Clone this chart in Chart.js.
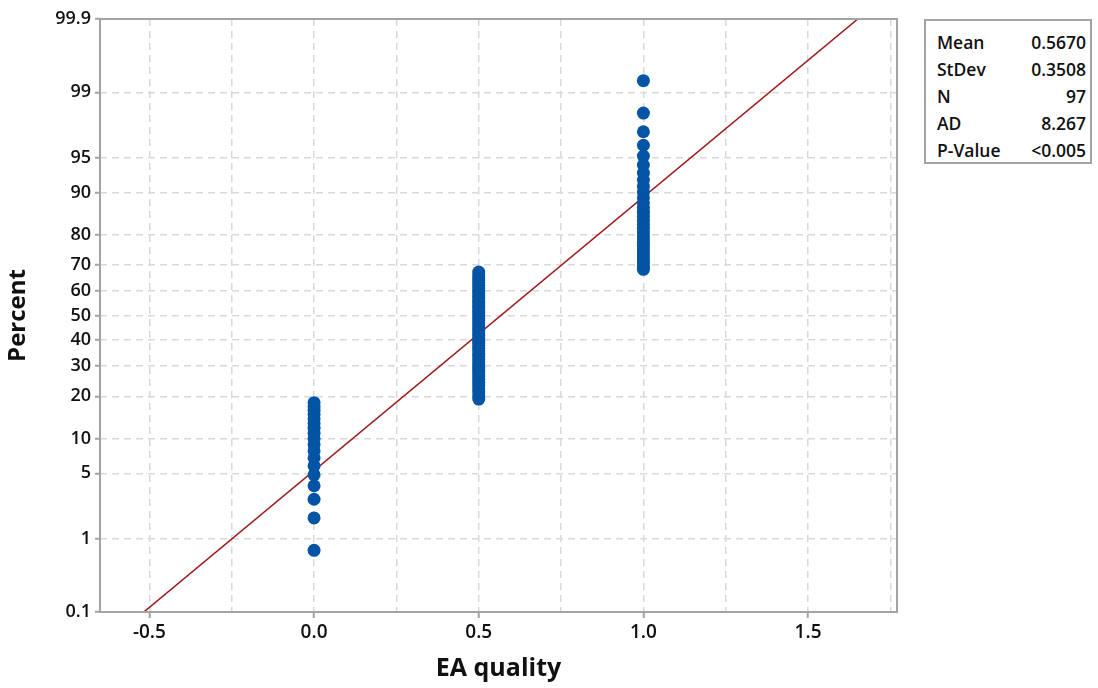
<!DOCTYPE html>
<html>
<head>
<meta charset="utf-8">
<script src="https://cdn.jsdelivr.net/npm/chart.js@4"></script>
<style>
  html, body { margin: 0; padding: 0; background: #fff; }
  #wrap { position: relative; width: 1098px; height: 688px; }
  #stats {
    position: absolute; left: 924px; top: 19px; width: 168px; height: 145px;
    border: 2px solid #a3a3a3; box-sizing: border-box; background: #fff;
    font-family: "Open Sans", "Noto Sans", sans-serif; font-size: 17.5px; font-weight: 600; color: #111;
  }
  #stats table { border-collapse: collapse; position: absolute; left: 11px; top: 8px; width: 149px; }
  #stats td { padding: 0; height: 27px; line-height: 27px; white-space: nowrap; }
  #stats td.v { text-align: right; }
</style>
</head>
<body>
<div id="wrap">
  <canvas id="myChart" width="1098" height="688"></canvas>
  <div id="stats"><table id="statsTable"></table></div>
</div>
<script>
// sample: EA quality scores and how many of the 97 got each one
var qualityLevels = [0.0, 0.5, 1.0];
var levelCounts = [18, 48, 31];

// fitted normal + summary table
var statNames = ["Mean", "StDev", "N", "AD", "P-Value"];
var statValues = ["0.5670", "0.3508", "97", "8.267", "<0.005"];
var fitMean = 0.5670;
var fitStdev = 0.3508;

// axis ticks
var yTickPercents = [0.1, 1, 5, 10, 20, 30, 40, 50, 60, 70, 80, 90, 95, 99, 99.9];
var xTickValues = [-0.5, -0.25, 0, 0.25, 0.5, 0.75, 1.0, 1.25, 1.5, 1.75];
var xTickLabels = ["-0.5", "", "0.0", "", "0.5", "", "1.0", "", "1.5", ""];

// inverse normal cdf (Acklam)
function probit(p) {
  var a = [-3.969683028665376e+01, 2.209460984245205e+02, -2.759285104469687e+02, 1.383577518672690e+02, -3.066479806614716e+01, 2.506628277459239e+00];
  var b = [-5.447609879822406e+01, 1.615858368580409e+02, -1.556989798598866e+02, 6.680131188771972e+01, -1.328068155288572e+01];
  var c = [-7.784894002430293e-03, -3.223964580411365e-01, -2.400758277161838e+00, -2.549732539343734e+00, 4.374664141464968e+00, 2.938163982698783e+00];
  var d = [7.784695709041462e-03, 3.224671290700398e-01, 2.445134137142996e+00, 3.754408661907416e+00];
  var pl = 0.02425, q, r;
  if (p < pl) {
    q = Math.sqrt(-2 * Math.log(p));
    return (((((c[0]*q+c[1])*q+c[2])*q+c[3])*q+c[4])*q+c[5]) / ((((d[0]*q+d[1])*q+d[2])*q+d[3])*q+1);
  }
  if (p > 1 - pl) {
    q = Math.sqrt(-2 * Math.log(1 - p));
    return -(((((c[0]*q+c[1])*q+c[2])*q+c[3])*q+c[4])*q+c[5]) / ((((d[0]*q+d[1])*q+d[2])*q+d[3])*q+1);
  }
  q = p - 0.5; r = q * q;
  return (((((a[0]*r+a[1])*r+a[2])*r+a[3])*r+a[4])*r+a[5])*q / (((((b[0]*r+b[1])*r+b[2])*r+b[3])*r+b[4])*r+1);
}

// stats box
var tbl = document.getElementById("statsTable");
statNames.forEach(function(n, i) {
  var tr = document.createElement("tr");
  tr.innerHTML = "<td>" + n + "</td><td class='v'>" + statValues[i] + "</td>";
  tbl.appendChild(tr);
});

// probability plot points, median ranks (i-0.3)/(n+0.4)
var n = levelCounts.reduce(function(s, v) { return s + v; }, 0);
var points = [];
var rank = 0;
qualityLevels.forEach(function(lvl, k) {
  for (var j = 0; j < levelCounts[k]; j++) {
    rank++;
    points.push({ x: lvl, y: probit((rank - 0.3) / (n + 0.4)) });
  }
});

var zLow = probit(yTickPercents[0] / 100);
var zHigh = probit(yTickPercents[yTickPercents.length - 1] / 100);
var fitLine = [
  { x: fitMean + fitStdev * zLow, y: zLow },
  { x: fitMean + fitStdev * zHigh, y: zHigh }
];

var FONT = "'Open Sans', 'Noto Sans', sans-serif";
var AXIS_GRAY = "#a3a3a3";

var frame = {
  id: "frame",
  afterDatasetsDraw: function(chart) {
    var a = chart.chartArea, c = chart.ctx;
    c.save();
    c.strokeStyle = AXIS_GRAY;
    c.lineWidth = 2;
    c.strokeRect(a.left, a.top, a.right - a.left, a.bottom - a.top);
    c.restore();
  }
};

var ctx = document.getElementById("myChart").getContext("2d");
var chart = new Chart(ctx, {
  type: "scatter",
  data: {
    datasets: [{
      label: "fit",
      type: "line",
      data: fitLine,
      borderColor: "#9e1b1b",
      borderWidth: 1.6,
      pointRadius: 0,
      fill: false,
      order: 2
    }, {
      label: "EA quality",
      data: points,
      backgroundColor: "#0454a6",
      borderColor: "#0454a6",
      pointRadius: 6.5,
      borderWidth: 0,
      order: 1
    }]
  },
  plugins: [frame],
  options: {
    responsive: false,
    animation: false,
    layout: { padding: { left: 0, top: 19, right: 201, bottom: 0 } },
    plugins: { legend: { display: false }, tooltip: { enabled: false } },
    scales: {
      x: {
        type: "linear",
        min: -0.65,
        max: 1.77,
        afterBuildTicks: function(scale) {
          scale.ticks = xTickValues.map(function(v) { return { value: v }; });
        },
        afterFit: function(scale) { scale.height = 76; },
        ticks: {
          autoSkip: false,
          maxRotation: 0,
          padding: 3,
          color: "#111",
          font: { family: FONT, size: 19, weight: 600 },
          callback: function(v, i) { return xTickLabels[i]; }
        },
        grid: {
          color: "#d9d9d9",
          lineWidth: 1.5,
          tickLength: 6,
          tickWidth: 2,
          tickColor: function(c) { return c.tick && xTickLabels[c.index] ? AXIS_GRAY : "rgba(0,0,0,0)"; }
        },
        border: { display: false, dash: [7, 5] },
        title: {
          display: true,
          text: "EA quality",
          color: "#111",
          font: { family: FONT, size: 25, weight: "bold" },
          padding: { top: 2 }
        }
      },
      y: {
        type: "linear",
        min: zLow,
        max: zHigh,
        afterBuildTicks: function(scale) {
          scale.ticks = yTickPercents.map(function(p) { return { value: probit(p / 100) }; });
        },
        afterFit: function(scale) { scale.width = 100; },
        ticks: {
          autoSkip: false,
          padding: 4,
          color: "#111",
          font: { family: FONT, size: 18, weight: 600 },
          callback: function(v, i) { return String(yTickPercents[i]); }
        },
        grid: {
          color: "#d9d9d9",
          lineWidth: 1.5,
          tickLength: 5,
          tickWidth: 2,
          tickColor: AXIS_GRAY
        },
        border: { display: false, dash: [7, 5] },
        title: {
          display: true,
          text: "Percent",
          color: "#111",
          font: { family: FONT, size: 24, weight: "bold" },
          padding: { bottom: 2 }
        }
      }
    }
  }
});
</script>
</body>
</html>
